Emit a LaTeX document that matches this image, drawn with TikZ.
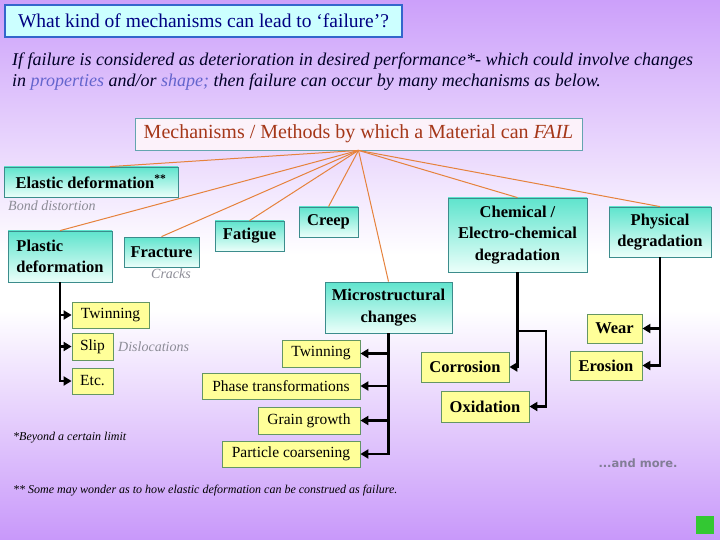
\documentclass[tikz,border=0pt]{standalone}
\usepackage{fontspec}
\setmainfont{Liberation Serif}
\newfontfamily\morefont{DejaVu Sans}
\usetikzlibrary{arrows.meta}
\definecolor{bgtop}{RGB}{204,160,250}
\definecolor{bgbot}{RGB}{200,152,250}
\definecolor{titlefill}{RGB}{204,255,255}
\definecolor{titledraw}{RGB}{51,102,204}
\definecolor{titletext}{RGB}{0,0,130}
\definecolor{mechfill}{RGB}{252,242,250}
\definecolor{mechdraw}{RGB}{100,165,175}
\definecolor{mechtext}{RGB}{165,55,25}
\definecolor{tealtop}{RGB}{95,228,205}
\definecolor{tealbot}{RGB}{235,255,250}
\definecolor{tealdraw}{RGB}{60,140,140}
\definecolor{ylwfill}{RGB}{255,255,153}
\definecolor{ylwdraw}{RGB}{100,150,100}
\definecolor{orangec}{RGB}{230,130,60}
\definecolor{propc}{RGB}{100,100,205}
\definecolor{grayt}{RGB}{140,140,150}
\definecolor{moret}{RGB}{130,125,150}
\definecolor{greensq}{RGB}{51,200,51}
\begin{document}
\begin{tikzpicture}[x=1pt,y=-1pt,
  teal/.style={draw=tealdraw, line width=0.8pt, top color=tealtop, bottom color=tealbot,
    font=\bfseries\fontsize{16.5}{21.5}\selectfont, align=center, inner sep=0pt},
  ylw/.style={draw=ylwdraw, line width=0.8pt, fill=ylwfill,
    font=\fontsize{15.5}{18}\selectfont, inner sep=0pt},
  ylwbold/.style={ylw, font=\bfseries\fontsize{16.5}{20}\selectfont},
  tree/.style={line width=2.7pt, -{Triangle[length=8pt,width=9pt]}},
  orangeline/.style={draw=orangec, line width=1pt},
  note/.style={text=grayt, font=\itshape\fontsize{14}{16}\selectfont, inner sep=0pt},
  para/.style={font=\itshape\fontsize{18}{20}\selectfont, inner sep=0pt, text=black!85!blue},
  foot/.style={font=\itshape\fontsize{12}{14}\selectfont, inner sep=0pt}
]
\useasboundingbox (0,0) rectangle (720,540);
% background
\shade[top color=bgtop, bottom color=white] (0,0) rectangle (720,255);
\fill[white] (0,254) rectangle (720,311);
\shade[top color=white, bottom color=bgbot] (0,310) rectangle (720,540);

% title
\node[draw=titledraw, line width=2pt, fill=titlefill, minimum width=397, minimum height=32,
  inner sep=0pt, text=titletext, font=\fontsize{19.5}{22}\selectfont] (title) at (203.5,21)
  {What kind of mechanisms can lead to ‘failure’?};

% paragraph
\node[para, anchor=base west] (p1) at (12,66)
  {If failure is considered as deterioration in desired performance*- which could involve changes};
\node[para, anchor=base west] (p2) at (12,87)
  {in \textcolor{propc}{properties} and/or \textcolor{propc}{shape;} then failure can occur by many mechanisms as below.};

% mechanisms box
\node[draw=mechdraw, line width=0.8pt, fill=mechfill, minimum width=447, minimum height=32,
  inner sep=0pt, text=mechtext, font=\fontsize{20}{22}\selectfont] (mech) at (358.5,134)
  {Mechanisms / Methods by which a Material can \textit{FAIL}};

% top-level boxes
\node[teal, minimum width=174, minimum height=30] (elastic) at (91,182) {Elastic deformation\textsuperscript{**}};
\node[teal, minimum width=104, minimum height=51, align=left] (plastic) at (60,256.5) {Plastic\\deformation};
\node[teal, minimum width=75, minimum height=30] (fracture) at (161.5,252) {Fracture};
\node[teal, minimum width=69, minimum height=30] (fatigue) at (249.5,236) {Fatigue};
\node[teal, minimum width=59, minimum height=30] (creep) at (328.5,222) {Creep};
\node[teal, minimum width=139, minimum height=74] (chem) at (517.5,235) {Chemical /\\Electro-chemical\\degradation};
\node[teal, minimum width=102, minimum height=50] (phys) at (660,232) {Physical\\degradation};
\node[teal, minimum width=127, minimum height=51] (micro) at (388.5,307.5) {Microstructural\\changes};

% notes
\node[note, anchor=west] (bond) at (8,206) {Bond distortion};
\node[note, anchor=west] (cracks) at (151,274) {Cracks};
\node[note, anchor=west] (disl) at (118,347) {Dislocations};

% orange connectors
\draw[orangeline] (mech.south) -- ([xshift=19pt]elastic.north);
\draw[orangeline] (mech.south) -- (plastic.north);
\draw[orangeline] (mech.south) -- (fracture.north);
\draw[orangeline] (mech.south) -- (fatigue.north);
\draw[orangeline] (mech.south) -- (creep.north);
\draw[orangeline] (mech.south) -- (micro.north);
\draw[orangeline] (mech.south) -- (chem.north);
\draw[orangeline] (mech.south) -- (phys.north);

% plastic sub-boxes
\node[ylw, minimum width=77, minimum height=26] (twinL) at (110.5,315) {Twinning};
\node[ylw, minimum width=41, minimum height=27] (slip) at (92.5,346.5) {Slip};
\node[ylw, minimum width=41, minimum height=26] (etc) at (92.5,381) {Etc.};
\draw[tree] (plastic.south) |- (twinL.west);
\draw[tree] (plastic.south) |- (slip.west);
\draw[tree] (plastic.south) |- (etc.west);

% micro sub-boxes
\node[ylw, minimum width=78, minimum height=27] (twinM) at (321,353.5) {Twinning};
\node[ylw, minimum width=158, minimum height=26] (phase) at (281,386) {Phase transformations};
\node[ylw, minimum width=102, minimum height=27] (grain) at (309,420.5) {Grain growth};
\node[ylw, minimum width=138, minimum height=26] (particle) at (291,454) {Particle coarsening};
\draw[tree] (micro.south) |- (twinM.east);
\draw[tree] (micro.south) |- (phase.east);
\draw[tree] (micro.south) |- (grain.east);
\draw[tree] (micro.south) |- (particle.east);

% chemical sub-boxes
\node[ylwbold, minimum width=88, minimum height=30] (corr) at (465,367) {Corrosion};
\node[ylwbold, minimum width=88, minimum height=31] (oxid) at (485,406.5) {Oxidation};
\draw[tree] (chem.south) |- (corr.east);
\coordinate (cj) at (517.5,331);
\coordinate (cr) at (546,331);
\draw[tree] (cj) -- (cr) |- (oxid.east);

% physical sub-boxes
\node[ylwbold, minimum width=55, minimum height=29] (wear) at (614.5,328.5) {Wear};
\node[ylwbold, minimum width=72, minimum height=29] (eros) at (606,365.5) {Erosion};
\draw[tree] (phys.south) |- (wear.east);
\draw[tree] (phys.south) |- (eros.east);

% footnotes
\node[foot, anchor=base west] (f1) at (13,440) {*Beyond a certain limit};
\node[foot, anchor=base west] (f2) at (13,493) {** Some may wonder as to how elastic deformation can be construed as failure.};
\node[text=moret, font=\morefont\bfseries\fontsize{11.5}{13}\selectfont, inner sep=0pt] (more) at (638,463) {...and more.};

% green square
\fill[greensq] (696,516) rectangle (714,534);
\end{tikzpicture}
\end{document}
